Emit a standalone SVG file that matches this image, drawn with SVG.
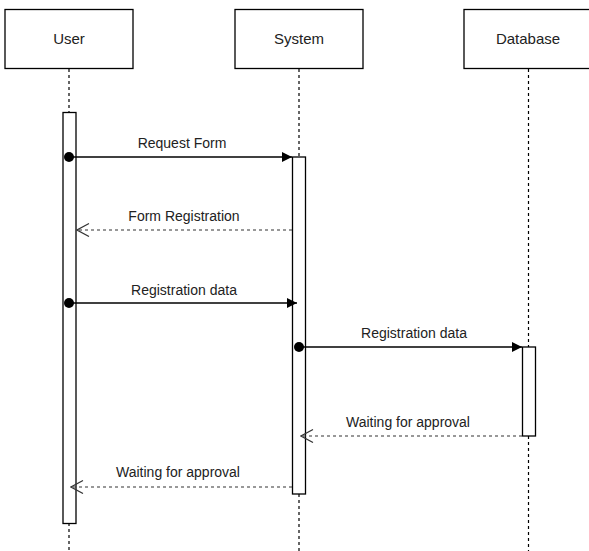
<svg xmlns="http://www.w3.org/2000/svg" width="589" height="551" viewBox="0 0 589 551">
  <style>
    .box { fill: #ffffff; stroke: #000000; stroke-width: 1.3; }
    .bar { fill: #ffffff; stroke: #000000; stroke-width: 1.3; }
    .life { stroke: #000000; stroke-width: 1.2; stroke-dasharray: 3 3; fill: none; }
    .call { stroke: #000000; stroke-width: 1.3; fill: none; marker-end: url(#block); }
    .reply { stroke: #333333; stroke-width: 1.2; stroke-dasharray: 3 3; fill: none; marker-end: url(#open); }
    .dot { fill: #000000; }
    .title { font-family: "Liberation Sans", Arial, sans-serif; font-size: 15px; fill: #222222; text-anchor: middle; }
    .msg { font-family: "Liberation Sans", Arial, sans-serif; font-size: 14px; fill: #222222; text-anchor: middle; }
  </style>
  <defs>
    <marker id="block" markerWidth="10" markerHeight="10" refX="10" refY="5" orient="auto" markerUnits="userSpaceOnUse">
      <path d="M0,0 L10,5 L0,10 Z" fill="#000000"/>
    </marker>
    <marker id="open" markerWidth="14" markerHeight="16" refX="13" refY="7" orient="auto" markerUnits="userSpaceOnUse">
      <path d="M1,0.5 L13,7 L1,13.5" fill="none" stroke="#333333" stroke-width="1.2"/>
    </marker>
  </defs>
  <rect width="589" height="551" fill="#ffffff"/>

  <!-- participant: User -->
  <g id="user">
    <rect class="box" x="5" y="9.5" width="128" height="59"/>
    <text class="title" x="69" y="44">User</text>
    <line class="life" x1="69" y1="69" x2="69" y2="112"/>
    <line class="life" x1="69" y1="523" x2="69" y2="551"/>
    <rect class="bar" x="63" y="112.5" width="13" height="411"/>
  </g>

  <!-- participant: System -->
  <g id="system">
    <rect class="box" x="235" y="9.5" width="128" height="59"/>
    <text class="title" x="299" y="44">System</text>
    <line class="life" x1="299" y1="69" x2="299" y2="157"/>
    <line class="life" x1="299" y1="494" x2="299" y2="551"/>
    <rect class="bar" x="292.5" y="157" width="13" height="337"/>
  </g>

  <!-- participant: Database -->
  <g id="database">
    <rect class="box" x="464" y="9.5" width="128" height="59"/>
    <text class="title" x="528" y="44">Database</text>
    <line class="life" x1="528.5" y1="69" x2="528.5" y2="347"/>
    <line class="life" x1="528.5" y1="436" x2="528.5" y2="551"/>
    <rect class="bar" x="522.5" y="347" width="13" height="89"/>
  </g>

  <!-- messages -->
  <g id="connectors">
    <circle class="dot" cx="69" cy="157" r="5"/>
    <line class="call" x1="69" y1="157" x2="292" y2="157"/>
    <text class="msg" x="182" y="148">Request Form</text>

    <line class="reply" x1="292" y1="230" x2="77" y2="230"/>
    <text class="msg" x="184" y="221">Form Registration</text>

    <circle class="dot" cx="69" cy="303" r="5"/>
    <line class="call" x1="69" y1="303" x2="297" y2="303"/>
    <text class="msg" x="184" y="295">Registration data</text>

    <circle class="dot" cx="299" cy="347" r="5"/>
    <line class="call" x1="299" y1="347" x2="522" y2="347"/>
    <text class="msg" x="414" y="338">Registration data</text>

    <line class="reply" x1="522" y1="436" x2="301" y2="436"/>
    <text class="msg" x="408" y="427">Waiting for approval</text>

    <line class="reply" x1="292" y1="487" x2="71" y2="487"/>
    <text class="msg" x="178" y="477">Waiting for approval</text>
  </g>
</svg>
